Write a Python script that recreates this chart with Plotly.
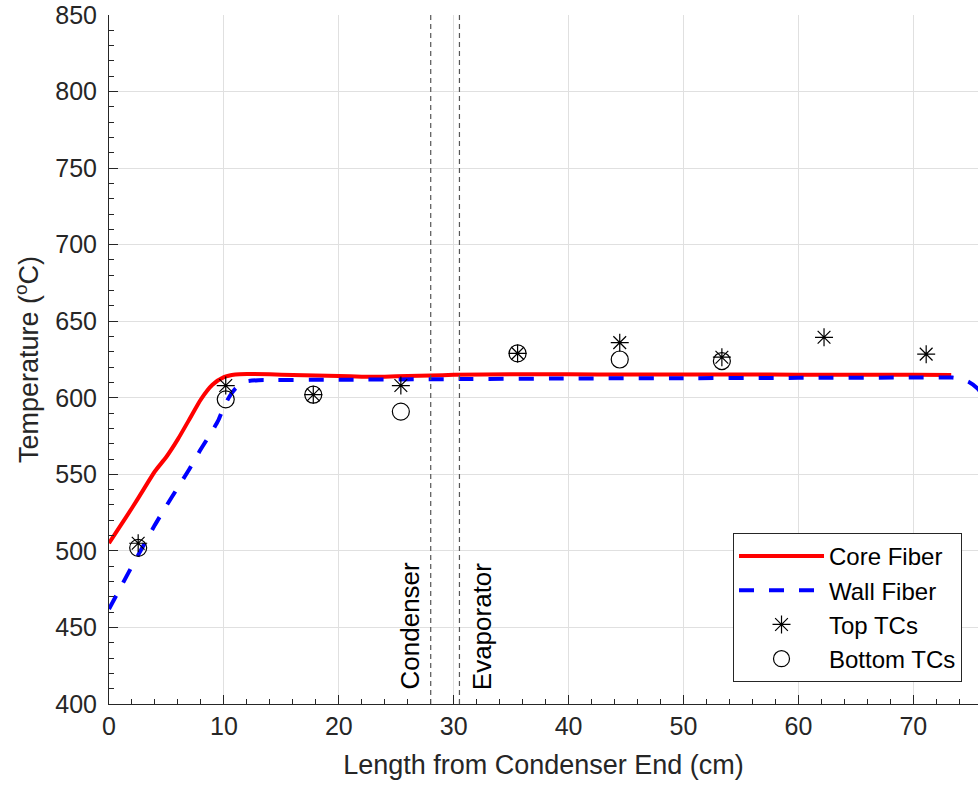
import plotly.graph_objects as go

# ---- data ----
core_x = [0, 1, 2, 3, 4, 5, 6, 7, 8, 9, 10, 11, 12, 14, 16, 18, 20, 22, 24, 26, 28, 30,
          35, 40, 45, 50, 55, 60, 65, 70, 73.3]
core_y = [505, 516.5, 528, 540, 552, 561.5, 573, 586, 599, 608.5, 613.5, 615.2, 615.5, 615.3,
          614.8, 614.5, 614.2, 613.8, 613.8, 614.2, 614.5, 615, 615.3, 615.3, 615.2, 615.2,
          615.2, 615.1, 615, 615, 614.8]

wall_x = [0, 1, 2, 3, 4, 5, 6, 7, 8, 9, 9.5, 10, 10.5, 11, 11.5, 12, 13, 14, 20, 30, 40, 50,
          60, 70, 73.4, 74.0, 74.8, 75.6, 76.2]
wall_y = [462, 476, 490, 503.5, 517, 529.5, 541.5, 553.5, 566.5, 578.5, 585, 594, 601, 606,
          609, 610.8, 611.5, 611.6, 611.8, 612.2, 612.6, 612.8, 613, 613.2, 613.2, 612.5, 610.5,
          606, 600]

top_x = [2.54, 10.16, 17.78, 25.4, 35.56, 44.45, 53.34, 62.23, 71.12]
top_y = [505, 608, 602, 608, 629, 636, 626.5, 639.5, 628.5]

bot_x = [2.54, 10.16, 17.78, 25.4, 35.56, 44.45, 53.34]
bot_y = [502, 599, 602, 591, 629, 625, 624]

section_x = [28, 30.5]
section_labels = ["Condenser", "Evaporator"]
section_shift = [-21, 22]

FONT = "Liberation Sans, Arial, Helvetica, sans-serif"
TXT = "#262626"

fig = go.Figure()
fig.add_trace(go.Scatter(x=core_x, y=core_y, mode="lines", name="Core Fiber",
                         line=dict(color="#ff0000", width=4, shape="spline", smoothing=0.6)))
fig.add_trace(go.Scatter(x=wall_x, y=wall_y, mode="lines", name="Wall Fiber",
                         line=dict(color="#0000ff", width=4, dash="15px,15px",
                                   shape="spline", smoothing=0.6)))
fig.add_trace(go.Scatter(x=top_x, y=top_y, mode="markers", name="Top TCs",
                         marker=dict(symbol="asterisk-open", size=15, color="black",
                                     line=dict(color="black", width=1.2))))
fig.add_trace(go.Scatter(x=bot_x, y=bot_y, mode="markers", name="Bottom TCs",
                         marker=dict(symbol="circle-open", size=17, color="black",
                                     line=dict(color="black", width=1.2))))

for xv, lab, sh in zip(section_x, section_labels, section_shift):
    fig.add_vline(x=xv, line=dict(color="#555555", width=1.2, dash="5px,4px"), layer="above")
    fig.add_annotation(x=xv, y=408, xref="x", yref="y", text=lab, textangle=-90,
                       showarrow=False, xanchor="center", yanchor="bottom", xshift=sh,
                       font=dict(family=FONT, size=26, color="black"))

fig.update_layout(
    width=978, height=788,
    margin=dict(l=109, r=0, t=15, b=84),
    paper_bgcolor="white", plot_bgcolor="white",
    font=dict(family=FONT, color=TXT, size=25),
    legend=dict(x=0.9816, y=0.032, xanchor="right", yanchor="bottom",
                bgcolor="white", bordercolor=TXT, borderwidth=1,
                font=dict(family=FONT, size=24, color="black"), itemwidth=85,
                tracegroupgap=0),
    showlegend=True,
)
fig.update_xaxes(range=[0, 75.63], tickvals=[0, 10, 20, 30, 40, 50, 60, 70],
                 automargin=False,
                 ticks="inside", ticklen=9, tickcolor=TXT, tickwidth=1,
                 minor=dict(dtick=2, ticks="inside", ticklen=5, tickcolor=TXT, showgrid=False),
                 showline=True, linecolor=TXT, linewidth=1, mirror=False,
                 showgrid=True, gridcolor="#e0e0e0", gridwidth=1, zeroline=False,
                 tickfont=dict(size=25, color=TXT),
                 title=dict(text="Length from Condenser End (cm)", font=dict(size=27, color=TXT),
                            standoff=16))
fig.update_yaxes(range=[400, 850], dtick=50, ticks="inside", ticklen=9, tickcolor=TXT,
                 tickwidth=1, automargin=False,
                 minor=dict(dtick=10, ticks="inside", ticklen=5, tickcolor=TXT, showgrid=False),
                 showline=True, linecolor=TXT, linewidth=1, mirror=False,
                 showgrid=True, gridcolor="#e0e0e0", gridwidth=1, zeroline=False,
                 tickfont=dict(size=25, color=TXT), ticklabelstandoff=6,
                 title=dict(text="Temperature (<sup>o</sup>C)", font=dict(size=27, color=TXT),
                            standoff=8))

fig.write_html("out.html", config={"displayModeBar": False},
               post_script="document.body.style.margin='0';document.body.style.overflow='hidden';")
